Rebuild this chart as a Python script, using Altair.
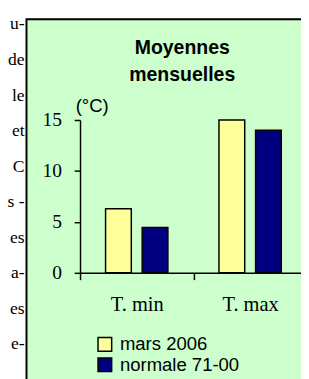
import altair as alt
import pandas as pd

categories = ["T. min", "T. max"]
series = ["mars 2006", "normale 71-00"]
mars_2006 = [6.3, 15.0]
normale = [4.45, 14.0]
colors = ["#FFFF99", "#000080"]
side_text = ["u-", "de", "le", "et", "C", "s -", "es", "a-", "es", "e-"]
title_lines = ["Moyennes", "mensuelles"]

rows = []
for c, a, b in zip(categories, mars_2006, normale):
    rows.append({"cat": c, "serie": series[0], "val": a})
    rows.append({"cat": c, "serie": series[1], "val": b})
df = pd.DataFrame(rows)

one = alt.Data(values=[{}])

box = alt.Chart(one).mark_rect(fill="#CCFFCC", stroke="black", strokeWidth=2).encode(
    x=alt.value(-55), x2=alt.value(260), y=alt.value(-103.5), y2=alt.value(300))
side = alt.Chart(one).mark_text(
    align="right", baseline="alphabetic", font="Liberation Serif", fontSize=18,
    lineHeight=36.5, color="black").encode(
    x=alt.value(-57), y=alt.value(-93), text=alt.value(side_text))
title = alt.Chart(one).mark_text(
    align="center", baseline="alphabetic", font="Liberation Sans", fontSize=20,
    fontWeight="bold", lineHeight=28, color="black").encode(
    x=alt.value(105), y=alt.value(-68), text=alt.value(title_lines))

bars = alt.Chart(df).mark_bar(stroke="black", strokeWidth=1.5).encode(
    x=alt.X("cat:N", sort=categories,
            scale=alt.Scale(range=[0, 233], paddingInner=0, paddingOuter=0),
            axis=alt.Axis(title=None, labelAngle=0, labelFont="Liberation Serif",
                          labelFontSize=21, labelColor="black", labelPadding=15,
                          tickSize=7, tickBand="extent", tickColor="black", tickWidth=1.5,
                          domainColor="black", domainWidth=1.5, zindex=1)),
    xOffset=alt.XOffset("serie:N", sort=series,
                        scale=alt.Scale(paddingInner=0.297, paddingOuter=0.698)),
    y=alt.Y("val:Q", scale=alt.Scale(domain=[0, 15], nice=False),
            axis=alt.Axis(values=[0, 5, 10, 15], title="(°C)", titleAngle=0,
                          titleAlign="left", titleBaseline="alphabetic",
                          titleX=-5, titleY=-9, titleFont="Liberation Sans",
                          titleFontSize=19, titleFontWeight="normal", titleColor="black",
                          labelFont="Liberation Serif", labelFontSize=20,
                          labelColor="black", labelPadding=13, tickSize=6,
                          tickColor="black", tickWidth=1.5, domainColor="black",
                          domainWidth=1.5, grid=False, zindex=1)),
    color=alt.Color("serie:N", sort=series,
                    scale=alt.Scale(domain=series, range=colors),
                    legend=alt.Legend(title=None, orient="none", legendX=16, legendY=221,
                                      symbolType="square", symbolSize=196,
                                      symbolStrokeColor="black", symbolStrokeWidth=1.5,
                                      labelFont="Liberation Sans", labelFontSize=19,
                                      labelColor="black", labelOffset=6,
                                      rowPadding=0, padding=0)),
)

chart = alt.layer(box, side, title, bars).properties(
    width=227, height=157,
    padding={"left": 74, "top": 110, "right": 0, "bottom": 104},
    autosize="none",
    background="white",
).configure_view(strokeWidth=0)

chart.save("out.html", embed_options={"renderer": "svg", "actions": False})
